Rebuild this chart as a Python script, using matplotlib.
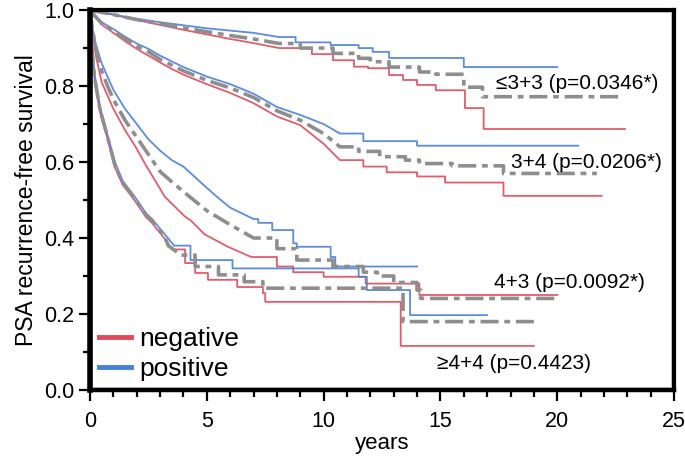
import matplotlib
matplotlib.use('Agg')
import matplotlib.pyplot as plt
from matplotlib.patches import Rectangle

plt.rcParams['font.family'] = ['Liberation Sans', 'DejaVu Sans']

# Gleason <=3+3
t_neg33 = [0, 0.5, 1, 2, 3, 4, 5, 6, 7, 8.1, 9.5, 10.4, 11.3, 11.9, 12.8, 13.4, 14.0, 14.8, 16.05, 16.85, 22.9]
s_neg33 = [1, 0.994, 0.988, 0.974, 0.961, 0.948, 0.936, 0.924, 0.913, 0.90, 0.884, 0.868, 0.851, 0.847, 0.829, 0.816, 0.803, 0.789, 0.742, 0.687, 0.687]
t_pos33 = [0, 0.5, 1, 2, 3, 4, 5, 6, 7, 8.1, 8.8, 10.3, 11.5, 12.1, 12.8, 16.0, 20.0]
s_pos33 = [1, 0.994, 0.988, 0.977, 0.968, 0.96, 0.952, 0.946, 0.94, 0.929, 0.915, 0.908, 0.90, 0.89, 0.874, 0.85, 0.85]
t_all33 = [0, 0.5, 1, 2, 3, 4, 5, 6, 7, 8.1, 9, 10.4, 11.5, 12.0, 12.8, 14.1, 14.8, 16.0, 16.8, 22.8]
s_all33 = [1, 0.994, 0.988, 0.975, 0.964, 0.953, 0.943, 0.933, 0.924, 0.912, 0.9, 0.886, 0.873, 0.864, 0.85, 0.837, 0.831, 0.797, 0.772, 0.772]

# Gleason 3+4
t_neg34 = [0, 0.2, 0.5, 1, 1.5, 2, 2.5, 3, 3.5, 4, 5, 6, 7, 8, 9, 10, 10.7, 11.7, 12.7, 14.0, 15.2, 17.7, 21.9]
s_neg34 = [1, 0.984, 0.962, 0.94, 0.918, 0.898, 0.88, 0.862, 0.845, 0.83, 0.805, 0.782, 0.755, 0.72, 0.697, 0.648, 0.605, 0.588, 0.573, 0.562, 0.546, 0.511, 0.511]
t_pos34 = [0, 0.2, 0.5, 1, 1.5, 2, 2.5, 3, 3.5, 4, 5, 6, 7, 8, 9, 10, 10.7, 11.7, 14.0, 20.9]
s_pos34 = [1, 0.986, 0.968, 0.95, 0.93, 0.912, 0.898, 0.88, 0.865, 0.85, 0.825, 0.805, 0.78, 0.745, 0.724, 0.7, 0.675, 0.655, 0.643, 0.643]
t_all34 = [0, 0.2, 0.5, 1, 1.5, 2, 2.5, 3, 3.5, 4, 5, 6, 7, 8, 9, 10, 10.7, 11.5, 12.4, 13.5, 14.1, 15.5, 17.7, 21.7]
s_all34 = [1, 0.985, 0.965, 0.945, 0.925, 0.905, 0.89, 0.87, 0.855, 0.84, 0.815, 0.795, 0.77, 0.735, 0.71, 0.675, 0.64, 0.628, 0.614, 0.605, 0.596, 0.59, 0.57, 0.57]

# Gleason 4+3
t_neg43 = [0, 0.1, 0.25, 0.5, 1, 1.5, 2, 2.35, 3.2, 4.07, 4.3, 4.9, 5.9, 6.9, 8.0, 8.7, 10.0, 11.8, 14.1, 20.0]
s_neg43 = [1, 0.94, 0.88, 0.81, 0.74, 0.684, 0.635, 0.596, 0.509, 0.456, 0.447, 0.41, 0.377, 0.35, 0.325, 0.31, 0.298, 0.28, 0.25, 0.25]
t_pos43 = [0, 0.1, 0.25, 0.5, 1, 1.5, 2, 2.5, 3, 3.5, 4, 4.5, 5, 5.5, 6, 6.5, 7, 7.2, 7.8, 8.7, 8.85, 10.3, 10.5, 14.0]
s_pos43 = [1, 0.955, 0.91, 0.86, 0.79, 0.74, 0.7, 0.66, 0.63, 0.605, 0.588, 0.56, 0.532, 0.505, 0.48, 0.465, 0.45, 0.44, 0.421, 0.386, 0.377, 0.35, 0.325, 0.325]
t_all43 = [0, 0.1, 0.25, 0.5, 0.75, 1, 1.5, 2, 2.5, 3, 3.5, 4, 5, 6, 7, 8, 8.85, 10.4, 11.7, 12.3, 13.0, 14.0, 14.15, 19.9]
s_all43 = [1, 0.95, 0.9, 0.84, 0.8, 0.765, 0.71, 0.665, 0.62, 0.575, 0.548, 0.522, 0.472, 0.435, 0.4, 0.372, 0.342, 0.325, 0.31, 0.3, 0.283, 0.263, 0.241, 0.241]

# Gleason >=4+4
t_neg44 = [0, 0.08, 0.2, 0.43, 0.71, 1.07, 1.4, 1.9, 2.4, 2.65, 3.2, 3.5, 4.07, 4.5, 5.05, 6.3, 7.4, 7.5, 13.3, 19.0]
s_neg44 = [1, 0.895, 0.815, 0.73, 0.67, 0.585, 0.54, 0.5, 0.455, 0.44, 0.398, 0.37, 0.334, 0.308, 0.29, 0.271, 0.255, 0.232, 0.116, 0.116]
t_pos44 = [0, 0.08, 0.2, 0.43, 0.71, 1.07, 1.4, 1.9, 2.4, 2.65, 3.2, 3.6, 4.3, 6.1, 11.5, 11.85, 13.7, 17.0]
s_pos44 = [1, 0.905, 0.83, 0.745, 0.68, 0.6, 0.55, 0.51, 0.465, 0.45, 0.41, 0.38, 0.342, 0.32, 0.298, 0.263, 0.197, 0.197]
t_all44 = [0, 0.08, 0.2, 0.43, 0.71, 1.07, 1.4, 1.9, 2.4, 2.65, 3.2, 3.35, 3.9, 4.5, 5.5, 6.6, 7.4, 13.4, 19.0]
s_all44 = [1, 0.9, 0.82, 0.737, 0.676, 0.59, 0.545, 0.505, 0.46, 0.447, 0.403, 0.38, 0.355, 0.325, 0.303, 0.285, 0.268, 0.18, 0.18]

# (neg, pos, all, time up to which the curve looks smooth)
groups = [
    (t_neg33, s_neg33, t_pos33, s_pos33, t_all33, s_all33, 8.2),
    (t_neg34, s_neg34, t_pos34, s_pos34, t_all34, s_all34, 10.8),
    (t_neg43, s_neg43, t_pos43, s_pos43, t_all43, s_all43, 7.1),
    (t_neg44, s_neg44, t_pos44, s_pos44, t_all44, s_all44, 4.0),
]
labels = ['\u22643+3 (p=0.0346*)', '3+4 (p=0.0206*)', '4+3 (p=0.0092*)', '\u22654+4 (p=0.4423)']
label_pos = [(17.4, 0.808), (18.0, 0.60), (17.3, 0.284), (14.85, 0.07)]

red = '#e04a5e'
blue = '#4a7fdc'
grey = '#8e8e8e'


def km(t, s, smooth):
    # many small steps early look like a line; later steps drawn as steps
    xs, ys = [t[0]], [s[0]]
    for i in range(1, len(t)):
        if t[i] > smooth:
            xs.append(t[i])
            ys.append(s[i - 1])
        xs.append(t[i])
        ys.append(s[i])
    return xs, ys


fig = plt.figure(figsize=(6.85, 4.58), dpi=100)
ax = fig.add_axes([0.1314, 0.1485, 0.8526, 0.8295])

for tn, sn, tp, sp, ta, sa, sm in groups:
    ax.plot(*km(tn, sn, sm), color=red, lw=1.3, alpha=0.9)
    ax.plot(*km(tp, sp, sm), color=blue, lw=1.3, alpha=0.9)
for tn, sn, tp, sp, ta, sa, sm in groups:
    ax.plot(*km(ta, sa, sm), color=grey, lw=2.6, dashes=(5, 1.6, 1.6, 1.6))

for lab, (x, y) in zip(labels, label_pos):
    ax.text(x, y, lab, fontsize=15, ha='left', va='center')

h1, = ax.plot([], [], color=red, lw=3.5)
h2, = ax.plot([], [], color=blue, lw=3.5)
ax.legend([h1, h2], ['negative', 'positive'], loc='lower left', frameon=False,
          fontsize=19, handlelength=1.2, handletextpad=0.3, labelspacing=0.2,
          borderaxespad=0.15, borderpad=0.2)

ax.set_xlim(0, 25)
ax.set_ylim(0, 1.0)
ax.set_xticks([0, 5, 10, 15, 20, 25])
ax.set_xticks(range(0, 26), minor=True)
ax.set_yticks([0.0, 0.2, 0.4, 0.6, 0.8, 1.0])
ax.set_yticks([i / 10 for i in range(11)], minor=True)
ax.set_yticklabels(['0.0', '0.2', '0.4', '0.6', '0.8', '1.0'])
ax.tick_params(which='major', direction='out', length=8, width=1.6, labelsize=15.5, color='black')
ax.tick_params(axis='x', which='major', pad=7)
ax.tick_params(which='minor', direction='out', length=5, width=1.6)

ax.spines['left'].set_linewidth(4)
ax.spines['bottom'].set_linewidth(3.2)
ax.spines['top'].set_linewidth(3)
ax.spines['right'].set_linewidth(3)

# faint grey inner frame
ax.add_patch(Rectangle((0.004, 0.006), 0.992, 0.988, transform=ax.transAxes,
                       fill=False, edgecolor='#c8c8c8', lw=1.2, zorder=0))

ax.set_xlabel('years', fontsize=16, labelpad=1)
ax.set_ylabel('PSA recurrence-free survival', fontsize=16.5, labelpad=4)

fig.savefig('out.png', dpi=100)
